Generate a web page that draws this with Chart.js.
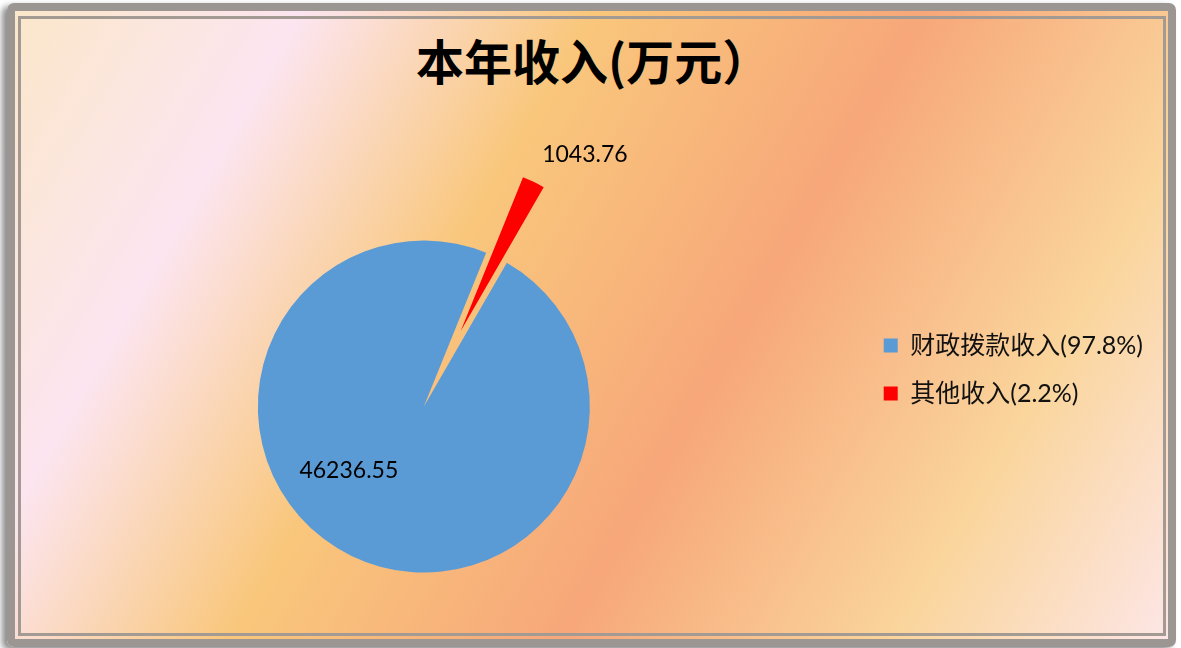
<!DOCTYPE html>
<html lang="zh">
<head>
<meta charset="utf-8">
<title>本年收入</title>
<script src="https://cdn.jsdelivr.net/npm/chart.js"></script>
<style>
  html, body { margin: 0; padding: 0; width: 1181px; height: 648px; overflow: hidden; background: #fff; }
  #frame {
    position: absolute; left: 7px; top: 3px; width: 1169px; height: 644px;
    box-sizing: border-box; border: 8px solid #9b9692; border-radius: 7px;
    box-shadow: -5px 3px 6px rgba(0, 0, 0, 0.45);
    background: linear-gradient(120deg, #fbe7ca 0%, #fce5f0 19%, #f9c77c 38%, #f7a77a 60%, #fad59c 82%, #fde6e6 100%);
  }
  #inner {
    position: absolute; left: 18px; top: 16px; width: 1148px; height: 620px;
    box-sizing: border-box; border: 3px solid #a29a93;
  }
  #titulo {
    position: absolute; left: 416px; top: 35px; margin: 0;
    font: bold 48px/48px "Noto Sans CJK SC", sans-serif; color: #000; white-space: nowrap;
  }
  #wrap { position: absolute; left: -13px; top: 0; width: 1194px; height: 648px; }
</style>
</head>
<body>
<div id="frame"></div>
<div id="inner"></div>
<h1 id="titulo">本年收入(万元）</h1>
<div id="wrap"><canvas id="graficaIngresos"></canvas></div>
<script>
// datos del grafico
const categorias = ['财政拨款收入(97.8%)', '其他收入(2.2%)'];
const ingresos = [46236.55, 1043.76];
const colores = ['#5b9bd5', '#ff0000'];

// separacion de la porcion y posicion de las etiquetas
const separacion = [0, 84];
const posEtiquetas = [{ giro: 23.5, radio: 0.594 }, { giro: 9.1, radio: 1.3 }];

const fuenteLatina = 'Lato, "Noto Sans CJK SC", sans-serif';

// dibuja la porcion roja desplazada hacia fuera
const porcionSeparada = {
    id: 'porcionSeparada',
    beforeDatasetDraw(chart, args) {
        const ctx = chart.ctx;
        args.meta.data.forEach((arc, i) => {
            const medio = (arc.startAngle + arc.endAngle) / 2;
            ctx.save();
            ctx.translate(Math.cos(medio) * separacion[i], Math.sin(medio) * separacion[i]);
            arc.draw(ctx);
            ctx.restore();
        });
        return false;
    }
};

// etiquetas con el valor de cada porcion
const etiquetasValor = {
    id: 'etiquetasValor',
    afterDatasetsDraw(chart) {
        const ctx = chart.ctx;
        const meta = chart.getDatasetMeta(0);
        ctx.save();
        ctx.font = '23px ' + fuenteLatina;
        ctx.fillStyle = '#000';
        ctx.textAlign = 'center';
        ctx.textBaseline = 'middle';
        meta.data.forEach((arc, i) => {
            const medio = (arc.startAngle + arc.endAngle) / 2;
            const ang = medio + posEtiquetas[i].giro * Math.PI / 180;
            const r = arc.outerRadius * posEtiquetas[i].radio;
            const x = arc.x + Math.cos(medio) * separacion[i] + Math.cos(ang) * r;
            const y = arc.y + Math.sin(medio) * separacion[i] + Math.sin(ang) * r;
            ctx.fillText(ingresos[i].toFixed(2), x, y);
        });
        ctx.restore();
    }
};

let ctx = document.getElementById('graficaIngresos').getContext('2d');
new Chart(ctx, {
    type: 'pie',
    data: {
        labels: categorias,
        datasets: [{
            data: ingresos,
            backgroundColor: colores,
            borderWidth: 0
        }]
    },
    options: {
        responsive: true,
        maintainAspectRatio: false,
        animation: false,
        events: [],
        rotation: 30,
        radius: 166,
        layout: { padding: { top: 310, left: 0, right: 28, bottom: 145 } },
        plugins: {
            title: { display: false },
            legend: {
                position: 'right',
                align: 'start',
                fullSize: false,
                labels: {
                    boxWidth: 14,
                    boxHeight: 14,
                    padding: 23,
                    color: '#111',
                    font: { family: fuenteLatina, size: 25 }
                }
            },
            tooltip: { enabled: false }
        }
    },
    plugins: [porcionSeparada, etiquetasValor]
});
</script>
</body>
</html>
